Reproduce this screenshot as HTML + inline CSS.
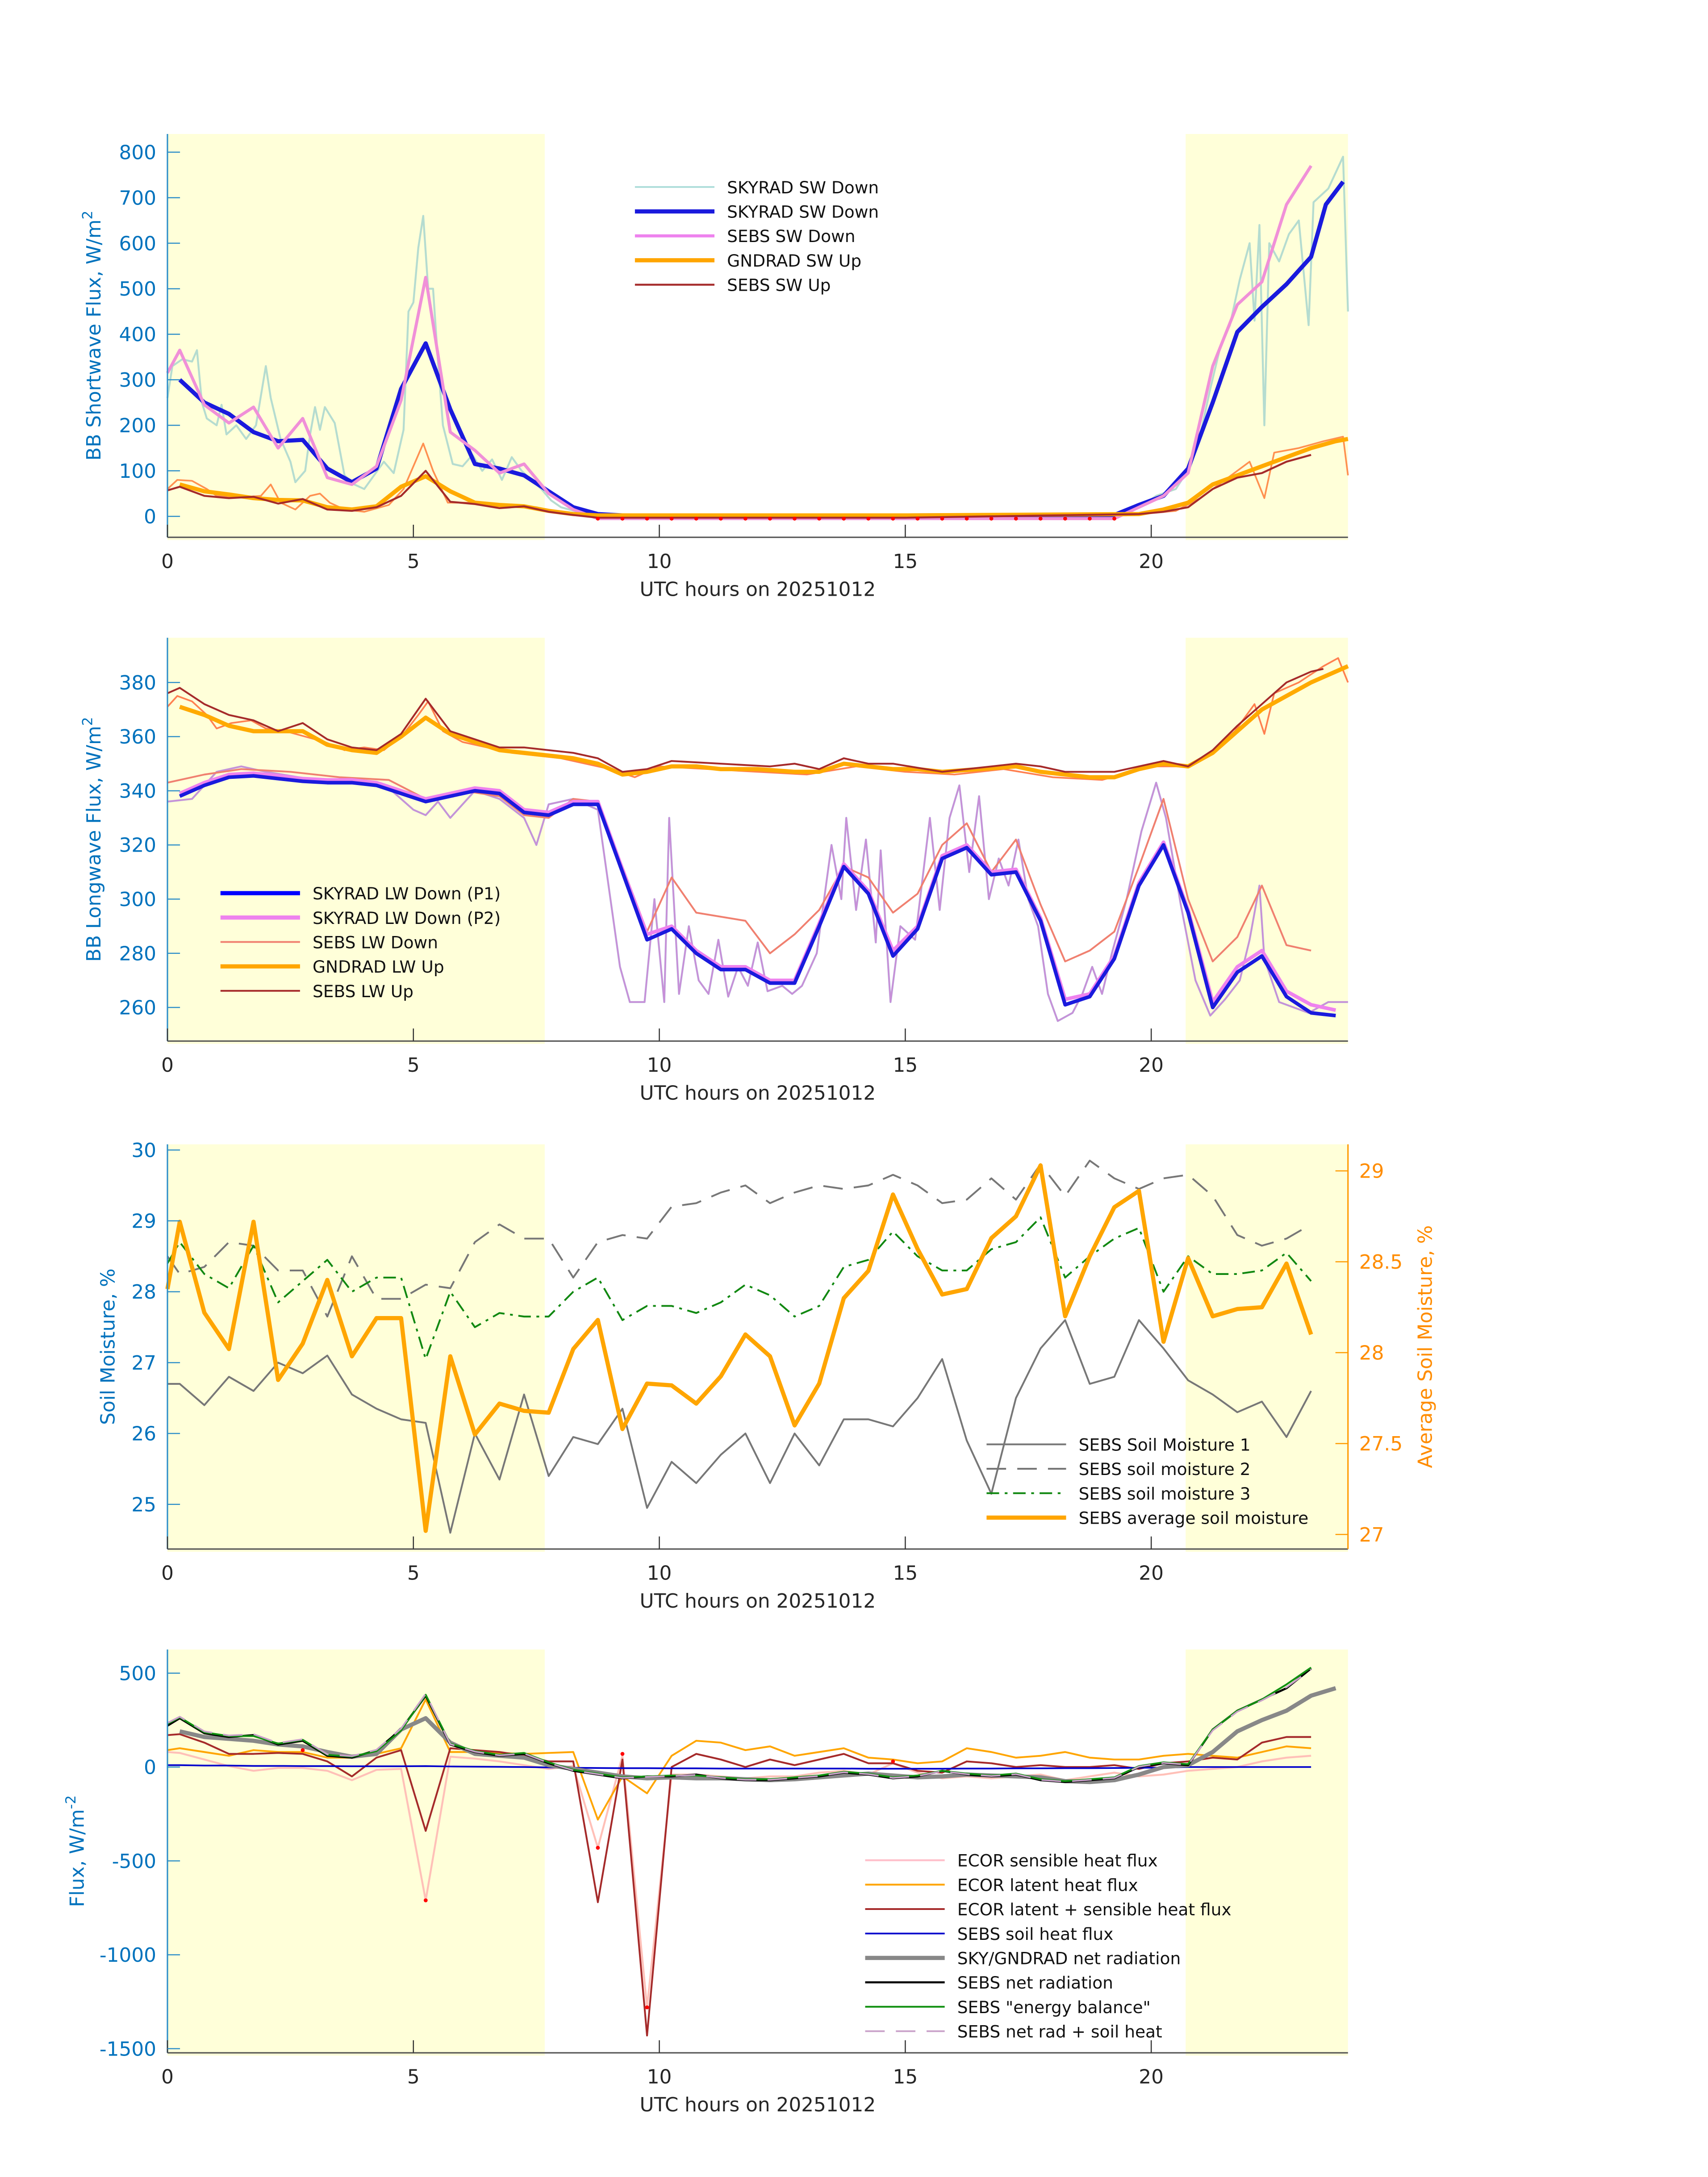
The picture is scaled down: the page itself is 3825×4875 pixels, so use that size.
<!DOCTYPE html>
<html><head><meta charset="utf-8"><style>
html,body{margin:0;padding:0;background:#fff}
svg{display:block}
text{font-family:"DejaVu Sans","Liberation Sans",sans-serif}
</style></head><body>
<svg id="fig" xmlns="http://www.w3.org/2000/svg" width="3825" height="4875" viewBox="0 0 1224 1560"></svg>
<script>
// ---------- DATA ----------
// Panel 1 (shortwave)
const swSkyFine=[[0,260],[0.1,330],[0.3,345],[0.5,340],[0.6,365],[0.7,250],[0.8,215],[1.0,200],[1.1,245],[1.2,180],[1.4,200],[1.6,170],[1.8,200],[2.0,330],[2.1,260],[2.3,170],[2.5,120],[2.6,75],[2.8,100],[2.9,180],[3.0,240],[3.1,190],[3.2,240],[3.4,205],[3.6,90],[3.8,70],[4.0,60],[4.2,90],[4.4,120],[4.6,95],[4.8,190],[4.9,450],[5.0,470],[5.1,590],[5.2,660],[5.3,500],[5.4,500],[5.5,340],[5.6,200],[5.8,115],[6.0,110],[6.2,135],[6.4,100],[6.6,125],[6.8,80],[7.0,130],[7.2,100],[7.4,80],[7.6,60],[7.8,35],[8.0,20],[8.5,5],[12,3],[19.5,5],[19.9,30],[20.1,45],[20.5,60],[20.8,110],[21.0,180],[21.2,280],[21.4,370],[21.6,420],[21.8,520],[22.0,600],[22.1,430],[22.2,640],[22.3,200],[22.4,600],[22.6,560],[22.8,620],[23.0,650],[23.2,420],[23.3,690],[23.6,720],[23.9,790],[24,450]];
const swSky=[[0.25,300],[0.75,250],[1.25,225],[1.75,185],[2.25,165],[2.75,168],[3.25,105],[3.75,75],[4.25,105],[4.75,280],[5.25,380],[5.75,235],[6.25,115],[6.75,105],[7.25,90],[7.75,55],[8.25,20],[8.75,5],[9.25,2],[12,2],[15,2],[19.25,3],[19.75,25],[20.25,45],[20.75,105],[21.25,250],[21.75,405],[22.25,460],[22.75,510],[23.25,570],[23.55,685],[23.9,735]];
const swSebs=[[0,315],[0.25,365],[0.75,245],[1.25,205],[1.75,240],[2.25,150],[2.75,215],[3.25,85],[3.75,70],[4.25,110],[4.75,255],[5.25,525],[5.75,185],[6.25,145],[6.75,95],[7.25,115],[7.75,50],[8.25,15],[8.75,-5],[12,-5],[15,-5],[19.25,-5],[19.75,20],[20.25,45],[20.75,95],[21.25,330],[21.75,465],[22.25,515],[22.75,685],[23.25,770]];
const swGnd=[[0.25,70],[0.75,55],[1.25,48],[1.75,40],[2.25,36],[2.75,35],[3.25,20],[3.75,15],[4.25,22],[4.75,65],[5.25,88],[5.75,55],[6.25,30],[6.75,25],[7.25,22],[7.75,12],[8.25,5],[8.75,2],[15,2],[19.75,5],[20.25,15],[20.75,30],[21.25,70],[21.75,90],[22.25,110],[22.75,130],[23.25,150],[23.75,165],[24,170]];
const swUpFine=[[0,60],[0.2,80],[0.5,78],[0.8,60],[1.0,45],[1.5,42],[1.9,45],[2.1,70],[2.3,30],[2.6,15],[2.9,45],[3.1,50],[3.3,30],[3.6,15],[4.0,10],[4.5,25],[4.8,60],[5.0,110],[5.2,160],[5.4,100],[5.7,30],[6.2,30],[7.0,25],[7.5,20],[8.0,8],[9,0],[19.5,2],[20.5,12],[21.0,40],[21.5,80],[22.0,120],[22.3,40],[22.5,140],[23.0,150],[23.5,165],[23.9,175],[24,90]];
const swSebsUp=[[0,57],[0.25,65],[0.75,45],[1.25,40],[1.75,43],[2.25,28],[2.75,38],[3.25,15],[3.75,12],[4.25,20],[4.75,45],[5.25,100],[5.75,32],[6.25,27],[6.75,18],[7.25,22],[7.75,10],[8.25,3],[8.75,-3],[15,-3],[19.75,5],[20.25,10],[20.75,20],[21.25,60],[21.75,85],[22.25,95],[22.75,120],[23.25,135]];
const swDotsT=[8.75,9.25,9.75,10.25,10.75,11.25,11.75,12.25,12.75,13.25,13.75,14.25,14.75,15.25,15.75,16.25,16.75,17.25,17.75,18.25,18.75,19.25];
const swDotsV=[-5,-5,-5,-5,-5,-5,-5,-5,-5,-5,-5,-5,-5,-5,-5,-5,-5,-5,-5,-5,-5,-5];
// Panel 2 (longwave)
const lwRawFine=[[0,336],[0.5,337],[1,347],[1.5,349],[2,347],[3,344],[4,343],[4.5,341],[5,333],[5.25,331],[5.5,336],[5.75,330],[6.25,340],[6.75,337],[7.25,330],[7.5,320],[7.75,335],[8.25,337],[8.75,333],[9.2,275],[9.4,262],[9.7,262],[9.9,300],[10.1,262],[10.2,330],[10.4,265],[10.6,290],[10.8,270],[11.0,265],[11.2,285],[11.4,264],[11.6,275],[11.8,268],[12.0,284],[12.2,266],[12.5,268],[12.7,265],[12.9,268],[13.2,280],[13.5,320],[13.7,300],[13.8,330],[14.0,296],[14.2,322],[14.4,284],[14.5,318],[14.7,262],[14.9,290],[15.2,285],[15.5,330],[15.7,296],[15.9,330],[16.1,342],[16.3,310],[16.5,338],[16.7,300],[16.9,315],[17.1,305],[17.3,322],[17.5,300],[17.7,290],[17.9,265],[18.1,255],[18.4,258],[18.6,265],[18.8,275],[19,265],[19.2,280],[19.5,300],[19.8,325],[20.1,343],[20.3,330],[20.6,298],[20.9,270],[21.2,257],[21.5,263],[21.8,270],[22.0,285],[22.2,305],[22.3,278],[22.6,262],[22.9,260],[23.2,258],[23.6,262],[24,262]];
const lwP1=[[0.25,338],[0.75,342],[1.25,345],[1.75,345.5],[2.25,344.5],[2.75,343.5],[3.25,343],[3.75,343],[4.25,342],[4.75,339],[5.25,336],[5.75,338],[6.25,340],[6.75,339],[7.25,332],[7.75,331],[8.25,335],[8.75,335],[9.25,310],[9.75,285],[10.25,289],[10.75,280],[11.25,274],[11.75,274],[12.25,269],[12.75,269],[13.25,290],[13.75,312],[14.25,302],[14.75,279],[15.25,289],[15.75,315],[16.25,319],[16.75,309],[17.25,310],[17.75,292],[18.25,261],[18.75,264],[19.25,278],[19.75,305],[20.25,320],[20.75,295],[21.25,260],[21.75,273],[22.25,279],[22.75,264],[23.25,258],[23.75,257]];
const lwP2=[[0.25,339],[0.75,343],[1.25,346],[1.75,346.5],[2.25,345.5],[2.75,344.5],[3.25,344],[3.75,344],[4.25,343],[4.75,340],[5.25,337],[5.75,339],[6.25,341],[6.75,340],[7.25,333],[7.75,332],[8.25,336],[8.75,336],[9.25,311],[9.75,287],[10.25,290],[10.75,281],[11.25,275],[11.75,275],[12.25,270],[12.75,270],[13.25,291],[13.75,313],[14.25,303],[14.75,281],[15.25,290],[15.75,316],[16.25,320],[16.75,310],[17.25,311],[17.75,293],[18.25,263],[18.75,265],[19.25,279],[19.75,306],[20.25,321],[20.75,296],[21.25,262],[21.75,275],[22.25,281],[22.75,266],[23.25,261],[23.75,259]];
const lwSebsDn=[[0,343],[0.75,346],[1.5,348],[2.5,347],[3.5,345],[4.5,344],[5.25,337],[6,340],[6.75,338],[7.25,331],[7.75,330],[8.25,337],[8.75,336],[9.25,312],[9.75,288],[10.25,308],[10.75,295],[11.75,292],[12.25,280],[12.75,287],[13.25,296],[13.75,312],[14.25,308],[14.75,295],[15.25,302],[15.75,320],[16.25,328],[16.75,310],[17.25,322],[17.75,298],[18.25,277],[18.75,281],[19.25,288],[19.75,312],[20.25,337],[20.75,300],[21.25,277],[21.75,286],[22.25,305],[22.75,283],[23.25,281]];
const lwUpFine=[[0,371],[0.2,375],[0.5,373],[0.8,368],[1.0,363],[1.3,365],[1.7,366],[2.0,363],[2.4,362],[2.8,360],[3.2,358],[3.6,355],[4.0,356],[4.4,355],[4.8,361],[5.1,368],[5.3,373],[5.6,362],[6,358],[7,354],[8,352],[9,348],[9.5,345],[10,349],[11,348],[12,347],[13,346],[14,349],[15,347],[16,346],[17,348],[18,345],[19,344],[20,349],[20.7,349],[21.2,354],[21.7,362],[22.1,372],[22.3,361],[22.5,376],[23,380],[23.5,386],[23.8,389],[24,380]];
const lwGnd=[[0.25,371],[0.75,368],[1.25,364],[1.75,362],[2.25,362],[2.75,362],[3.25,357],[3.75,355],[4.25,354],[4.75,360],[5.25,367],[5.75,361],[6.25,358],[6.75,355],[7.25,354],[7.75,353],[8.25,352],[8.75,350],[9.25,346],[9.75,347],[10.25,349],[10.75,349],[11.25,348],[12,348],[12.75,347],[13.25,347],[13.75,350],[14.25,349],[14.75,348],[15.25,348],[15.75,347],[16.5,348],[17.25,349],[17.75,347],[18.25,346],[18.75,345],[19.25,345],[19.75,348],[20.25,350],[20.75,349],[21.25,354],[21.75,362],[22.25,370],[22.75,375],[23.25,380],[23.75,384],[24,386]];
const lwSebsUp=[[0,376],[0.25,378],[0.75,372],[1.25,368],[1.75,366],[2.25,362],[2.75,365],[3.25,359],[3.75,356],[4.25,355],[4.75,361],[5.25,374],[5.75,362],[6.25,359],[6.75,356],[7.25,356],[7.75,355],[8.25,354],[8.75,352],[9.25,347],[9.75,348],[10.25,351],[11.25,350],[12.25,349],[12.75,350],[13.25,348],[13.75,352],[14.25,350],[14.75,350],[15.75,347],[16.75,349],[17.25,350],[17.75,349],[18.25,347],[19.25,347],[19.75,349],[20.25,351],[20.75,349],[21.25,355],[21.75,364],[22.25,372],[22.75,380],[23.25,384],[23.5,385]];
// Panel 3 (soil moisture)
const smTimes=[0,0.25,0.75,1.25,1.75,2.25,2.75,3.25,3.75,4.25,4.75,5.25,5.75,6.25,6.75,7.25,7.75,8.25,8.75,9.25,9.75,10.25,10.75,11.25,11.75,12.25,12.75,13.25,13.75,14.25,14.75,15.25,15.75,16.25,16.75,17.25,17.75,18.25,18.75,19.25,19.75,20.25,20.75,21.25,21.75,22.25,22.75,23.25];
const sm1=[26.7,26.7,26.4,26.8,26.6,27.0,26.85,27.1,26.55,26.35,26.2,26.15,24.6,26.0,25.35,26.55,25.4,25.95,25.85,26.35,24.95,25.6,25.3,25.7,26.0,25.3,26.0,25.55,26.2,26.2,26.1,26.5,27.05,25.9,25.15,26.5,27.2,27.6,26.7,26.8,27.6,27.2,26.75,26.55,26.3,26.45,25.95,26.6];
const sm2=[28.5,28.25,28.35,28.7,28.65,28.3,28.3,27.65,28.5,27.9,27.9,28.1,28.05,28.7,28.95,28.75,28.75,28.2,28.7,28.8,28.75,29.2,29.25,29.4,29.5,29.25,29.4,29.5,29.45,29.5,29.65,29.5,29.25,29.3,29.6,29.3,29.8,29.35,29.85,29.6,29.45,29.6,29.65,29.35,28.8,28.65,28.75,28.95];
const sm3=[28.4,28.7,28.25,28.05,28.65,27.85,28.15,28.45,28.0,28.2,28.2,27.05,28.0,27.5,27.7,27.65,27.65,28.0,28.2,27.6,27.8,27.8,27.7,27.85,28.1,27.95,27.65,27.8,28.35,28.45,28.85,28.5,28.3,28.3,28.6,28.7,29.05,28.2,28.5,28.75,28.9,28.0,28.5,28.25,28.25,28.3,28.55,28.15];
const smAvg=[28.35,28.72,28.22,28.02,28.72,27.85,28.05,28.4,27.98,28.19,28.19,27.02,27.98,27.55,27.72,27.68,27.67,28.02,28.18,27.58,27.83,27.82,27.72,27.87,28.1,27.98,27.6,27.83,28.3,28.45,28.87,28.57,28.32,28.35,28.63,28.75,29.03,28.2,28.53,28.8,28.89,28.06,28.52,28.2,28.24,28.25,28.49,28.1];
// Panel 4 (energy fluxes)
const flTimes=[0,0.25,0.75,1.25,1.75,2.25,2.75,3.25,3.75,4.25,4.75,5.25,5.75,6.25,6.75,7.25,7.75,8.25,8.75,9.25,9.75,10.25,10.75,11.25,11.75,12.25,12.75,13.25,13.75,14.25,14.75,15.25,15.75,16.25,16.75,17.25,17.75,18.25,18.75,19.25,19.75,20.25,20.75,21.25,21.75,22.25,22.75,23.25];
const flSens=[80,75,40,5,-20,-5,-5,-20,-70,-15,-10,-710,55,45,30,10,-10,5,-430,60,-1280,-40,-40,-50,-60,-50,-50,-30,-20,-40,20,-30,-60,-50,-60,-50,-40,-70,-50,-30,-50,-40,-20,-10,0,30,50,60];
const flLat=[90,100,80,60,90,80,80,50,50,70,100,360,80,80,75,70,75,80,-280,-50,-140,60,140,130,90,110,60,80,100,50,40,20,30,100,80,50,60,80,50,40,40,60,70,60,50,80,110,100];
const flLatSens=[170,175,130,70,70,75,70,30,-50,50,90,-340,100,90,80,60,30,30,-720,40,-1430,0,70,40,0,40,10,40,70,20,20,-20,-30,30,20,0,10,0,0,10,-10,20,30,50,40,130,160,160];
const flSoil=[10,10,8,8,6,6,5,5,4,4,4,5,3,2,1,0,-2,-4,-5,-6,-6,-7,-7,-8,-8,-8,-8,-8,-8,-9,-9,-9,-9,-8,-8,-7,-7,-6,-6,-5,-4,-3,0,0,0,0,0,0];
const flNetT=[0.25,0.75,1.25,1.75,2.25,2.75,3.25,3.75,4.25,4.75,5.25,5.75,6.25,6.75,7.25,7.75,8.25,8.75,9.25,9.75,10.25,10.75,11.25,11.75,12.25,12.75,13.25,13.75,14.25,14.75,15.25,15.75,16.25,16.75,17.25,17.75,18.25,18.75,19.25,19.75,20.25,20.75,21.25,21.75,22.25,22.75,23.25,23.75];
const flNetSky=[190,160,150,140,120,110,80,55,70,200,260,130,70,60,50,10,-10,-30,-50,-60,-55,-60,-60,-65,-70,-65,-55,-45,-35,-45,-55,-50,-40,-45,-50,-55,-75,-80,-70,-40,0,10,80,190,250,300,380,420];
const flNetSebs=[220,260,180,160,170,120,140,60,50,90,200,380,120,80,60,70,20,-20,-40,-60,-50,-50,-40,-60,-70,-70,-60,-50,-30,-40,-60,-50,-20,-40,-50,-40,-70,-80,-70,-60,0,20,10,200,300,360,420,525];
const flNetT2=[0,0.25,0.75,1.25,1.75,2.25,2.75,3.25,3.75,4.25,4.75,5.25,5.75,6.25,6.75,7.25,7.75,8.25,8.75,9.25,9.75,10.25,10.75,11.25,11.75,12.25,12.75,13.25,13.75,14.25,14.75,15.25,15.75,16.25,16.75,17.25,17.75,18.25,18.75,19.25,19.75,20.25,20.75,21.25,21.75,22.25,22.75,23.25];
const flEB=[230,265,185,165,165,125,145,65,55,85,195,385,125,85,65,75,25,-15,-35,-55,-50,-45,-45,-55,-65,-65,-55,-45,-25,-35,-55,-45,-20,-35,-45,-35,-65,-75,-65,-55,5,25,15,200,300,360,440,530];
const flNetSoil=[235,268,190,168,175,128,148,68,58,92,205,390,122,82,62,72,22,-18,-38,-58,-52,-48,-42,-58,-68,-68,-58,-48,-28,-38,-58,-48,-22,-38,-48,-38,-68,-78,-68,-58,2,22,12,195,295,355,425,520];
const flDotT=[5.25,8.75,9.25,9.75,2.75,14.75];
const flDotV=[-710,-430,70,-1280,90,30];
// tick labels
const xTicks=[0,5,10,15,20];
const yTicks1=[0,100,200,300,400,500,600,700,800];
const yTicks2=[260,280,300,320,340,360,380];
const yTicks3L=[25,26,27,28,29,30];
const yTicks3R=["27","27.5","28","28.5","29"];
const yTicks4=[500,0,-500,-1000,-1500];

// ---------- DRAWING ----------
const svg=document.getElementById('fig');
const NS='http://www.w3.org/2000/svg';
function mk(tag,attrs,parent){const e=document.createElementNS(NS,tag);for(const k in attrs)e.setAttribute(k,attrs[k]);(parent||svg).appendChild(e);return e;}
const X0=120,X1=966,XMAX=24;
function xs(t){return X0+(X1-X0)*t/XMAX;}
function panel(name,top,bot,ymin,ymax){
  const g=mk('g',{});
  
  
  const ys=v=>bot-(bot-top)*(v-ymin)/(ymax-ymin);
  const r1=mk('rect',{x:X0,y:top,width:xs(7.67)-X0,height:bot-top+2,fill:'#ffffd9'},g);
  
  
  const r2=mk('rect',{x:xs(20.7),y:top,width:X1-xs(20.7),height:bot-top+2,fill:'#ffffd9'},g);
  
  
  return {g,ys,top,bot};
}
function line(p,pts,ys,color,w,dash,name){
  const d=pts.map((q,i)=>(i?'L':'M')+xs(q[0]).toFixed(2)+','+ys(q[1]).toFixed(2)).join('');
  const e=mk('path',{d,fill:'none',stroke:color,'stroke-width':w,'stroke-linejoin':'round','stroke-dasharray':dash||'none'},p.g);
  
  
}
function zip(t,v){return t.map((x,i)=>[x,v[i]]);}
function dots(p,t,v,ys,name){
  t.forEach((x,i)=>{const c=mk('circle',{cx:xs(x),cy:ys(v[i]),r:1.4,fill:'#ff0000'},p.g);
  
  });
}
function axes(p,ticks,labels,ys,ylabel,xlabelY,ylabX){
  const b=p.bot,t=p.top;
  const ax=mk('line',{x1:X0,y1:b,x2:X1,y2:b,stroke:'#555','stroke-width':1},p.g);
  
  
  const ay=mk('line',{x1:X0,y1:t,x2:X0,y2:b,stroke:'#2d8ec9','stroke-width':1},p.g);
  
  
  xTicks.forEach(v=>{mk('line',{x1:xs(v),y1:b,x2:xs(v),y2:b-9,stroke:'#333','stroke-width':0.8},p.g);
    const tx=mk('text',{x:xs(v),y:b+22,'font-size':14,'text-anchor':'middle',fill:'#262626'},p.g);tx.textContent=v;
    
    });
  ticks.forEach((v,i)=>{mk('line',{x1:X0,y1:ys(v),x2:X0+9,y2:ys(v),stroke:'#2d8ec9','stroke-width':0.8},p.g);
    const tx=mk('text',{x:X0-8,y:ys(v)+5,'font-size':14,'text-anchor':'end',fill:'#0072bd'},p.g);tx.textContent=labels[i];
    
    });
  const xl=mk('text',{x:543,y:xlabelY,'font-size':14,'text-anchor':'middle',fill:'#262626'},p.g);xl.textContent='UTC hours on 20251012';
  
  
  const cy=(t+b)/2;
  const yl=mk('text',{x:ylabX,y:cy,'font-size':14,'text-anchor':'middle',fill:'#0072bd',transform:`rotate(-90 ${ylabX} ${cy})`},p.g);
  yl.innerHTML=ylabel;
  
  
}
function legend(p,x,y0,dy,items){
  items.forEach((it,i)=>{const y=y0+i*dy;
    const l=mk('line',{x1:x,y1:y,x2:x+57,y2:y,stroke:it[1],'stroke-width':it[2],'stroke-dasharray':it[3]||'none'},p.g);
    
    
    const tx=mk('text',{x:x+66,y:y+4.5,'font-size':12,fill:'#111'},p.g);tx.textContent=it[0];
    
    });
}

// Panel 1
const p1=panel('shortwave-panel',96,385,-46,840);
line(p1,swSkyFine,p1.ys,'#b5dcd0',1.4,null,'skyrad-sw-down-raw');
line(p1,swUpFine,p1.ys,'#ff9050',1.2,null,'gndrad-sw-up-raw');
line(p1,swSky,p1.ys,'#1a1add',3,null,'skyrad-sw-down');
line(p1,swSebs,p1.ys,'#f090d8',2.2,null,'sebs-sw-down');
line(p1,swGnd,p1.ys,'#ffaa00',3,null,'gndrad-sw-up');
line(p1,swSebsUp,p1.ys,'#a52a2a',1.4,null,'sebs-sw-up');
dots(p1,swDotsT,swDotsV,p1.ys,'sw-flag-dot');
axes(p1,yTicks1,yTicks1,p1.ys,'BB Shortwave Flux, W/m<tspan dy="-6" font-size="10">2</tspan>',427,72);
legend(p1,455,134,17.5,[['SKYRAD SW Down','#aadcd8',1.2],['SKYRAD SW Down','#1a1add',3],['SEBS SW Down','#ee82ee',2.2],['GNDRAD SW Up','#ffa500',3],['SEBS SW Up','#a52a2a',1.4]]);

// Panel 2
const p2=panel('longwave-panel',457,746,247.6,396.5);
line(p2,lwRawFine,p2.ys,'#a8d0e0',1.4,null,'lw-down-raw-p1');
line(p2,lwRawFine,p2.ys,'#c890d8',1.2,null,'lw-down-raw-p2');
line(p2,lwUpFine,p2.ys,'#ff8050',1.2,null,'gndrad-lw-up-raw');
line(p2,lwSebsDn,p2.ys,'#f08070',1.3,null,'sebs-lw-down');
line(p2,lwGnd,p2.ys,'#ffaa00',3,null,'gndrad-lw-up');
line(p2,lwSebsUp,p2.ys,'#a52a2a',1.3,null,'sebs-lw-up');
line(p2,lwP2,p2.ys,'#ee82ee',2.6,null,'skyrad-lw-down-p2');
line(p2,lwP1,p2.ys,'#1a1add',2.6,null,'skyrad-lw-down-p1');
axes(p2,yTicks2,yTicks2,p2.ys,'BB Longwave Flux, W/m<tspan dy="-6" font-size="10">2</tspan>',788,72);
legend(p2,158,640,17.5,[['SKYRAD LW Down (P1)','#0000ff',3],['SKYRAD LW Down (P2)','#ee82ee',3],['SEBS LW Down','#f08070',1.3],['GNDRAD LW Up','#ffa500',3],['SEBS LW Up','#a52a2a',1.3]]);

// Panel 3
const p3=panel('soil-moisture-panel',820,1110,24.37,30.08);
const ysR=v=>1110-290*(v-26.92)/(29.146-26.92);
line(p3,zip(smTimes,sm1),p3.ys,'#777',1.3,null,'sebs-soil-moisture-1');
line(p3,zip(smTimes,sm2),p3.ys,'#777',1.3,'14,8','sebs-soil-moisture-2');
line(p3,zip(smTimes,sm3),p3.ys,'#118811',1.3,'9,4,2,4','sebs-soil-moisture-3');
line(p3,zip(smTimes,smAvg),ysR,'#ffa500',3,null,'sebs-average-soil-moisture');
axes(p3,yTicks3L,yTicks3L,p3.ys,'Soil Moisture, %',1152,82);
const ar=mk('line',{x1:X1,y1:820,x2:X1,y2:1110,stroke:'#ff9a00','stroke-width':1},p3.g);


yTicks3R.forEach(s=>{const v=parseFloat(s);mk('line',{x1:X1,y1:ysR(v),x2:X1-9,y2:ysR(v),stroke:'#ff9a00','stroke-width':0.8},p3.g);
  const tx=mk('text',{x:X1+8,y:ysR(v)+5,'font-size':14,fill:'#ff8c00'},p3.g);tx.textContent=s;
  
  });
const rl=mk('text',{x:1026,y:965,'font-size':14,'text-anchor':'middle',fill:'#ff8c00',transform:'rotate(-90 1026 965)'},p3.g);rl.textContent='Average Soil Moisture, %';


legend(p3,707,1035,17.5,[['SEBS Soil Moisture 1','#777',1.3],['SEBS soil moisture 2','#777',1.3,'14,8'],['SEBS soil moisture 3','#118811',1.3,'9,4,2,4'],['SEBS average soil moisture','#ffa500',3]]);

// Panel 4
const p4=panel('energy-flux-panel',1182,1471,-1522,626);
line(p4,zip(flTimes,flSens),p4.ys,'#ffc0b8',1.4,null,'ecor-sensible-heat-flux');
line(p4,zip(flTimes,flLat),p4.ys,'#ffa500',1.3,null,'ecor-latent-heat-flux');
line(p4,zip(flTimes,flLatSens),p4.ys,'#a52a2a',1.3,null,'ecor-latent-plus-sensible');
line(p4,zip(flTimes,flSoil),p4.ys,'#0000cc',1.2,null,'sebs-soil-heat-flux');
line(p4,zip(flNetT,flNetSky),p4.ys,'#888',3,null,'sky-gndrad-net-radiation');
line(p4,zip(flNetT2,flNetSebs),p4.ys,'#000',1.5,null,'sebs-net-radiation');
line(p4,zip(flNetT2,flEB),p4.ys,'#109010',1.3,null,'sebs-energy-balance');
line(p4,zip(flNetT2,flNetSoil),p4.ys,'#c8a0c8',1.2,'14,8','sebs-net-rad-plus-soil-heat');
dots(p4,flDotT,flDotV,p4.ys,'flux-flag-dot');
axes(p4,yTicks4,yTicks4,p4.ys,'Flux, W/m<tspan dy="-6" font-size="10">-2</tspan>',1513,60);
legend(p4,620,1333,17.5,[['ECOR sensible heat flux','#ffc0cb',1.4],['ECOR latent heat flux','#ffa500',1.3],['ECOR latent + sensible heat flux','#a52a2a',1.3],['SEBS soil heat flux','#0000cc',1.2],['SKY/GNDRAD net radiation','#888',3],['SEBS net radiation','#000',1.5],['SEBS "energy balance"','#109010',1.3],['SEBS net rad + soil heat','#c8a0c8',1.2,'14,8']]);
</script>
</body></html>
